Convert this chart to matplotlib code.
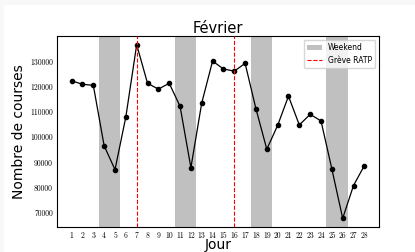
import matplotlib
matplotlib.use('Agg')
import matplotlib.pyplot as plt
import numpy as np
from matplotlib.patches import Rectangle

# nombre de courses par jour en fevrier
jours = list(range(1, 29))
courses = [122300, 120900, 120500, 96500, 87100, 108000, 136600, 121300, 119000, 121300,
           112200, 87900, 113500, 130100, 127000, 126100, 129200, 111200, 95200, 104600,
           116200, 104800, 109000, 106400, 87400, 67800, 80800, 88700]
weekends = [(3.5, 5.5), (10.5, 12.5), (17.5, 19.5), (24.5, 26.5)]
greves = [7, 16]

fig = plt.figure(figsize=(4.15, 2.52), dpi=100)
fig.patch.set_facecolor('#f8f8f8')
# fond blanc (petit bord gris en haut et a gauche)
fig.patches.append(Rectangle((4 / 415, 0), 1, 1 - 5 / 252, transform=fig.transFigure,
                             facecolor='white', edgecolor='none', zorder=-1))
ax = fig.add_axes([57 / 415, 25 / 252, 322 / 415, 191 / 252])

for i, (a, b) in enumerate(weekends):
    ax.axvspan(a, b, color='#c0c0c0', lw=0, label='Weekend' if i == 0 else None)

ax.plot(jours, courses, color='black', marker='o', markersize=3, lw=0.9)

for i, g in enumerate(greves):
    ax.axvline(g, color='red', ls='--', lw=0.8, zorder=3,
               label='Grève RATP' if i == 0 else None)

ax.set_xticks(jours)
ax.set_xticklabels([str(j) for j in jours], family='cmr10', fontsize=5.5)
ax.set_yticks([70000, 80000, 90000, 100000, 110000, 120000, 130000])
ax.set_yticklabels(['70000', '80000', '90000', '100000', '110000', '120000', '130000'],
                   family='cmr10', fontsize=5.5)
ax.tick_params(length=0, pad=3)
ax.margins(x=0.05, y=0.05)

ax.set_title('Février', fontsize=10.5, pad=2)
ax.set_xlabel('Jour', fontsize=10, labelpad=-1)
ax.set_ylabel('Nombre de courses', fontsize=10, labelpad=3)
ax.legend(loc='upper right', fontsize=5.5, framealpha=0.8)

plt.savefig('out.png', dpi=100, facecolor=fig.get_facecolor())
